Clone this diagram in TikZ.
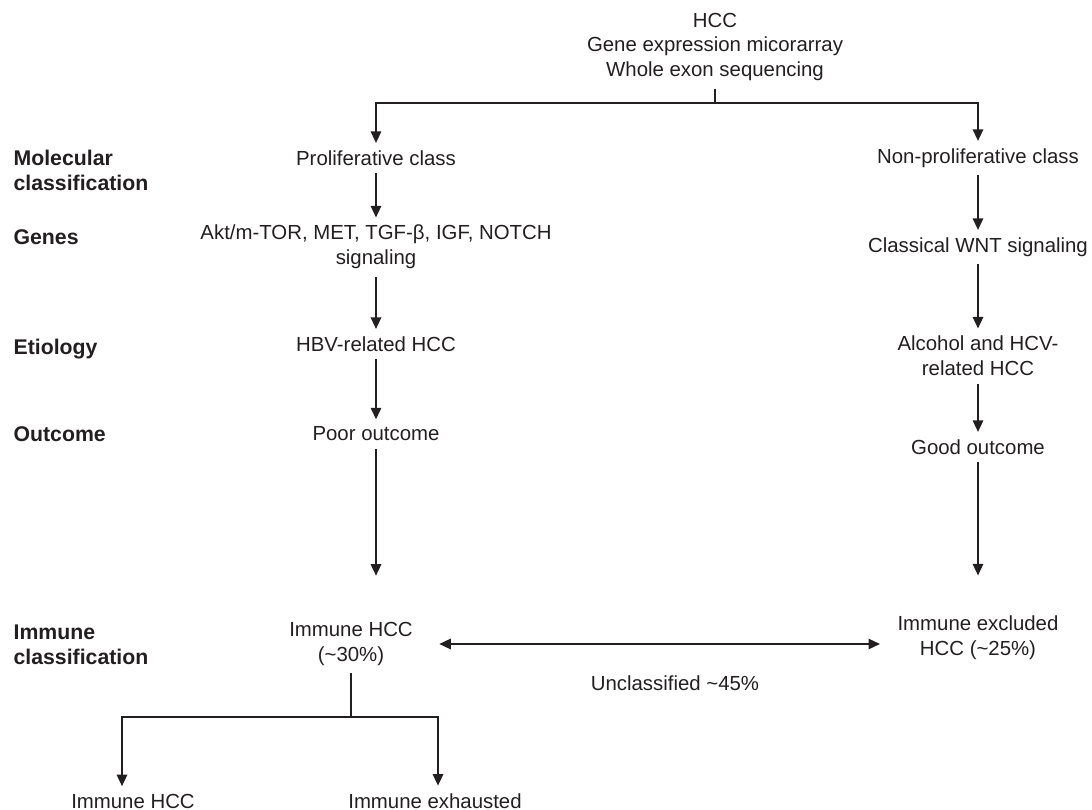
\documentclass[tikz,border=0pt]{standalone}
\usepackage{fontspec}
\setmainfont{Liberation Sans}
\usetikzlibrary{arrows.meta}
\definecolor{ink}{RGB}{35,31,32}

\begin{document}
\begin{tikzpicture}[x=0.02cm, y=-0.02cm, color=ink, line width=0.7pt,
  >={Triangle[length=6.5pt,width=6pt]},
  every node/.style={font=\fontsize{11.6}{14.2}\selectfont, inner sep=4pt, align=center},
  lbl/.style={font=\fontsize{12.1}{14.6}\selectfont\bfseries, anchor=north west, inner sep=0pt, align=left},
  arr/.style={->}]
  \useasboundingbox (0,0) rectangle (1092,810);

  % top
  \node (hcc) at (715,47) {HCC\\Gene expression micorarray\\Whole exon sequencing};
  \coordinate (ts) at (715,103);

  % two columns
  \node (pro) at (376,158) {Proliferative class};
  \node (npro) at (978,158) {Non-proliferative class};
  \node (gen-l) at (376,247) {Akt/m-TOR, MET, TGF-β, IGF, NOTCH\\signaling};
  \node (gen-r) at (978,247) {Classical WNT signaling};
  \node (eti-l) at (376,344) {HBV-related HCC};
  \node (eti-r) at (978,356) {Alcohol and HCV-\\related HCC};
  \node (out-l) at (376,434) {Poor outcome};
  \node (out-r) at (978,447) {Good outcome};
  \node (imm-l) at (351,644) {Immune HCC\\(\textasciitilde30\%)};
  \node (imm-r) at (978,638) {Immune excluded\\HCC (\textasciitilde25\%)};
  \node (uncl) at (675,683) {Unclassified \textasciitilde45\%};

  % row labels
  \foreach \txt/\y/\n in {Molecular\\classification/149/mol, Genes/229/gen,
      Etiology/338/eti, Outcome/426/out, Immune\\classification/624/imm}
    \node[lbl] (lab-\n) at (13,\y) {\txt};

  \draw (hcc) -- (ts);
  \draw[arr] (ts) -| (pro);
  \draw[arr] (ts) -| (npro);

  \foreach \from/\to in {pro/gen-l, gen-l/eti-l, eti-l/out-l,
      npro/gen-r, gen-r/eti-r, eti-r/out-r}
    \draw[arr] (\from) -- (\to);

  \draw[arr, shorten >=0.78cm] (out-l) -- (out-l |- imm-l.north);
  \draw[arr, shorten >=0.66cm] (out-r) -- (imm-r);
  \draw[<->, shorten <=0.38cm, shorten >=0.2cm] (imm-l.east) -- (imm-l.east -| imm-r.west);

  % bottom split
  \node[anchor=base] (sub-l) at (133,808) {Immune HCC};
  \node[anchor=base] (sub-r) at (435,808) {Immune exhausted};
  \coordinate (bs) at (351,717);
  \coordinate (bl) at (122,717);
  \coordinate (br) at (438,717);
  \draw (imm-l) -- (bs);
  \draw[arr] (bs) -- (bl) -- (bl |- sub-l.north);
  \draw[arr] (bs) -- (br) -- (br |- sub-r.north);

\end{tikzpicture}
\end{document}
